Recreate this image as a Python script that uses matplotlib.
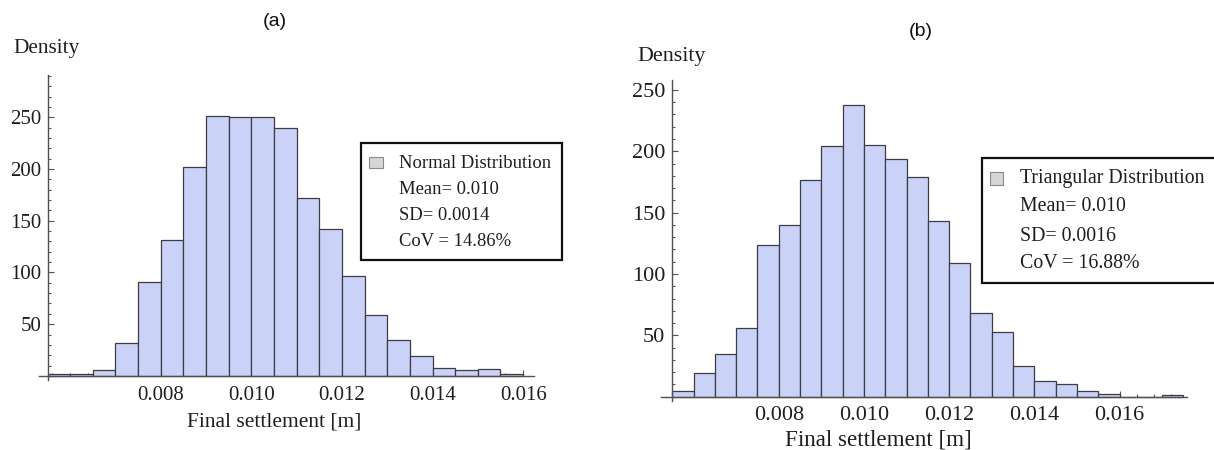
import matplotlib
matplotlib.use("Agg")
import matplotlib.pyplot as plt
from matplotlib.patches import Rectangle
from matplotlib.ticker import MultipleLocator, FixedLocator
import numpy as np

# histogram data, bins of 0.0005 m starting at 0.0055
bin_start = 0.0055
bin_width = 0.0005
counts_a = [2, 2, 5.5, 31.5, 91, 131, 202, 251.5, 250, 250, 240, 172, 142.5,
            96.5, 59, 35, 19, 8, 5.5, 6.5, 1.5]
counts_b = [4.7, 19, 34.5, 56, 123.5, 140, 177, 204, 238, 205, 193.5, 179, 143,
            109, 68, 53, 25, 13, 10, 4.6, 1.8, 0, 0, 1.5]
xticks = [0.008, 0.010, 0.012, 0.014, 0.016]
xtick_labels = ["0.008", "0.010", "0.012", "0.014", "0.016"]
yticks = [50, 100, 150, 200, 250]
legend_a = ["Normal Distribution", "Mean= 0.010", "SD= 0.0014", "CoV = 14.86%"]
legend_b = ["Triangular Distribution", "Mean= 0.010", "SD= 0.0016", "CoV = 16.88%"]

W, H = 1214, 450
SERIF = "Liberation Serif"
SANS = "Liberation Sans"
BAR = "#cbd2f7"
EDGE = "#3c3c44"
TXT = "#1e1e1e"

fig = plt.figure(figsize=(W / 100, H / 100), dpi=100)


def rect(x0, y0, x1, y1):
    return [x0 / W, 1 - y1 / H, (x1 - x0) / W, (y1 - y0) / H]


def hist_panel(box, counts, xlim, ylim, fs, xpad, ypad):
    ax = fig.add_axes(rect(*box))
    edges = bin_start + bin_width * np.arange(len(counts))
    ax.bar(edges, counts, width=bin_width, align="edge", color=BAR,
           edgecolor=EDGE, linewidth=0.9, zorder=2)
    ax.set_xlim(*xlim)
    ax.set_ylim(*ylim)
    for s in ["top", "right"]:
        ax.spines[s].set_visible(False)
    ax.spines["left"].set_position(("data", bin_start))
    ax.spines["bottom"].set_position(("data", 0))
    for s in ["left", "bottom"]:
        ax.spines[s].set_color("#505050")
        ax.spines[s].set_linewidth(1.0)
        ax.spines[s].set_zorder(3)
    ax.set_xticks(xticks)
    ax.set_xticklabels(xtick_labels)
    ax.xaxis.set_minor_locator(MultipleLocator(0.0004))
    ax.set_yticks(yticks)
    ax.yaxis.set_minor_locator(MultipleLocator(10))
    ax.tick_params(axis="both", which="both", direction="in", color="#505050",
                   width=0.8, labelcolor=TXT)
    ax.tick_params(axis="both", which="major", length=4)
    ax.tick_params(axis="both", which="minor", length=2)
    ax.tick_params(axis="x", which="major", pad=xpad)
    ax.tick_params(axis="y", which="major", pad=ypad)
    for lab in ax.get_xticklabels() + ax.get_yticklabels():
        lab.set_fontfamily(SERIF)
        lab.set_fontsize(fs)
    ax.set_facecolor("none")
    return ax


def stat_box(x0, y0, x1, y1, sq, tx, rows, lines, fs):
    fig.patches.append(Rectangle((x0 / W, 1 - y1 / H), (x1 - x0) / W, (y1 - y0) / H,
                                 transform=fig.transFigure, facecolor="white",
                                 edgecolor="#111111", linewidth=1.6, zorder=5))
    sx0, sy0, sx1, sy1 = sq
    fig.patches.append(Rectangle((sx0 / W, 1 - sy1 / H), (sx1 - sx0) / W, (sy1 - sy0) / H,
                                 transform=fig.transFigure, facecolor="#d6d6d6",
                                 edgecolor="#8a8a8a", linewidth=0.8, zorder=6))
    for y, s in zip(rows, lines):
        fig.text(tx / W, 1 - y / H, s, ha="left", va="center", fontsize=fs,
                 family=SERIF, color=TXT, zorder=7)


# panel (a)
hist_panel((38.5, 75, 534, 380), counts_a, (0.0053, 0.01624), (-4, 291), 15, 7.5, 4.5)
fig.text(275 / W, 1 - 22 / H, "(a)", ha="center", va="center", fontsize=14, family=SANS, color="#111111")
fig.text(13 / W, 1 - 49 / H, "Density", ha="left", va="center", fontsize=15.3, family=SERIF, color=TXT)
fig.text(274 / W, 1 - 422 / H, "Final settlement [m]", ha="center", va="center",
         fontsize=15.5, family=SERIF, color=TXT)
stat_box(360.7, 143.3, 561.7, 260, (369, 157, 383, 168), 399, [163, 190, 216, 241.7], legend_a, 13.4)

# panel (b)
hist_panel((660.7, 80, 1187, 401), counts_b, (0.005228, 0.017583), (-3.5, 258.1), 16, 7, 5)
fig.text(921 / W, 1 - 32 / H, "(b)", ha="center", va="center", fontsize=14, family=SANS, color="#111111")
fig.text(637 / W, 1 - 57 / H, "Density", ha="left", va="center", fontsize=15.8, family=SERIF, color=TXT)
fig.text(878 / W, 1 - 440 / H, "Final settlement [m]", ha="center", va="center",
         fontsize=16.6, family=SERIF, color=TXT)
stat_box(981.7, 158.3, 1222, 283.3, (990, 171.7, 1003, 185), 1020, [178, 206.7, 236, 263.3], legend_b, 14.3)

fig.savefig("out.png", dpi=100)
